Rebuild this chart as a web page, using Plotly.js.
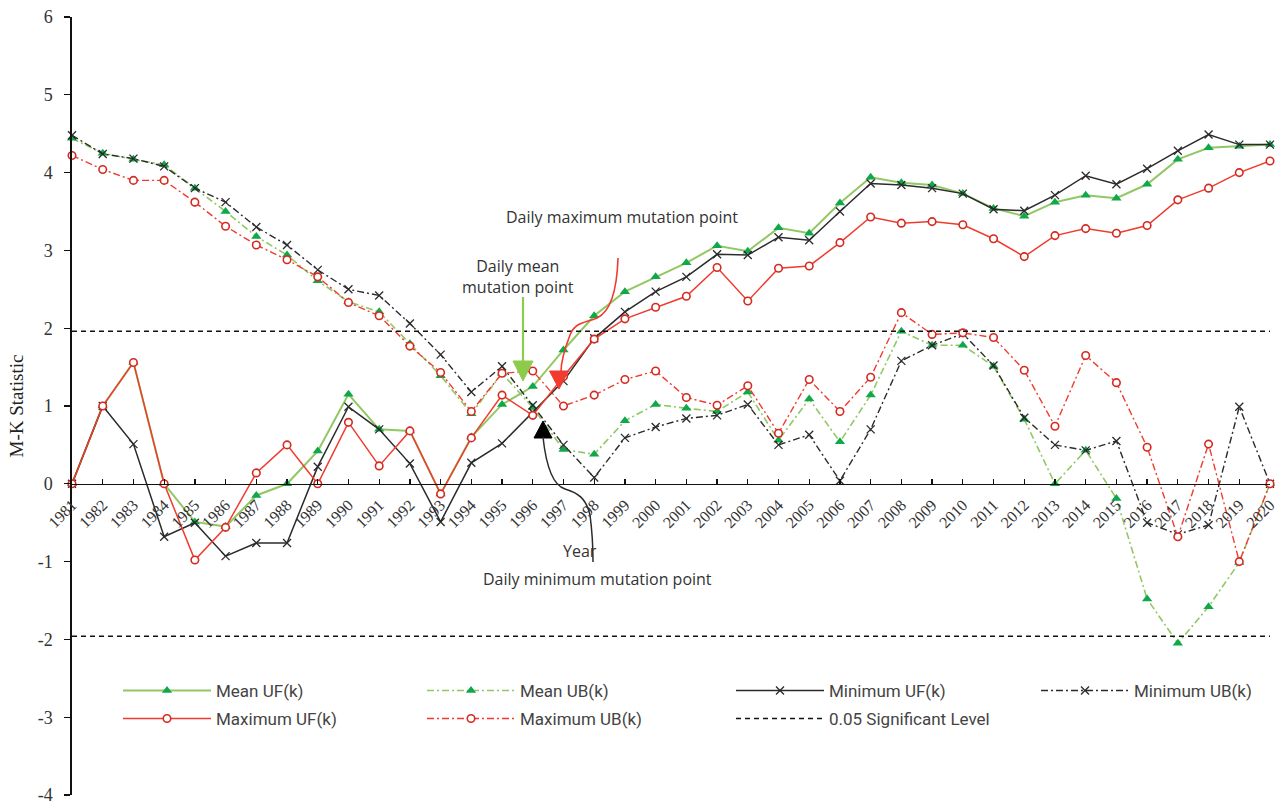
<!DOCTYPE html>
<html>
<head>
<meta charset="utf-8">
<script src="https://cdn.plot.ly/plotly-3.0.1.min.js"></script>
<style>
  html, body { margin: 0; padding: 0; background: #fff; }
  #chart { width: 1280px; height: 807px; }
</style>
</head>
<body>
<div id="chart"></div>
<script>
// Mann-Kendall sequential test statistics, 1981-2020
const years = [1981,1982,1983,1984,1985,1986,1987,1988,1989,1990,
               1991,1992,1993,1994,1995,1996,1997,1998,1999,2000,
               2001,2002,2003,2004,2005,2006,2007,2008,2009,2010,
               2011,2012,2013,2014,2015,2016,2017,2018,2019,2020];

const meanUF = [0,1.00,1.56,0,-0.49,-0.55,-0.15,0,0.42,1.15,
                0.70,0.68,-0.13,0.60,1.02,1.25,1.72,2.16,2.47,2.66,
                2.84,3.06,2.99,3.29,3.22,3.61,3.94,3.87,3.84,3.73,
                3.54,3.44,3.62,3.71,3.67,3.85,4.17,4.32,4.34,4.36];
const meanUB = [4.44,4.25,4.17,4.10,3.80,3.50,3.18,2.94,2.61,2.34,
                2.21,1.80,1.39,0.90,1.42,0.98,0.44,0.38,0.81,1.02,
                0.97,0.93,1.18,0.56,1.09,0.54,1.14,1.96,1.78,1.78,
                1.51,0.83,0,0.43,-0.19,-1.48,-2.05,-1.58,-1.01,0];
const minUF  = [0,1.00,0.51,-0.68,-0.50,-0.93,-0.76,-0.76,0.22,0.99,
                0.70,0.26,-0.49,0.27,0.52,0.92,1.32,1.87,2.21,2.47,
                2.66,2.95,2.94,3.17,3.13,3.50,3.86,3.84,3.80,3.73,
                3.53,3.51,3.71,3.96,3.85,4.05,4.28,4.49,4.36,4.36];
const minUB  = [4.48,4.24,4.18,4.08,3.80,3.62,3.30,3.07,2.75,2.50,
                2.42,2.06,1.66,1.18,1.51,1.01,0.50,0.08,0.59,0.73,
                0.84,0.88,1.02,0.50,0.63,0.04,0.70,1.58,1.78,1.93,
                1.52,0.85,0.50,0.43,0.55,-0.50,-0.65,-0.53,0.99,0];
const maxUF  = [0,1.00,1.56,0,-0.98,-0.56,0.14,0.50,0,0.79,
                0.23,0.68,-0.13,0.59,1.14,0.88,1.38,1.86,2.12,2.27,
                2.41,2.78,2.35,2.77,2.80,3.10,3.43,3.35,3.37,3.33,
                3.15,2.92,3.19,3.28,3.22,3.32,3.65,3.80,4.00,4.15];
const maxUB  = [4.22,4.04,3.90,3.90,3.62,3.31,3.07,2.88,2.66,2.33,
                2.16,1.77,1.43,0.93,1.42,1.45,1.00,1.14,1.34,1.45,
                1.11,1.01,1.26,0.65,1.34,0.93,1.37,2.20,1.92,1.94,
                1.88,1.46,0.74,1.65,1.30,0.47,-0.68,0.51,-1.00,0];

// two-sided 0.05 significance bound
const sigLevel = 1.96;

// y tick labels (plain hyphen for negatives)
const yTickVals = [-4,-3,-2,-1,0,1,2,3,4,5,6];
const yTickText = ['-4','-3','-2','-1','0','1','2','3','4','5','6'];

// plot geometry
const W = 1280, H = 807;
const M = { l: 72, r: 10, t: 17, b: 12, autoexpand: false };
const xRange = [1981, 2020];
const yRange = [-4, 6];
const plotW = W - M.l - M.r, plotH = H - M.t - M.b;
// pixel -> data / paper helpers for the callout graphics and legend boxes
const dx = px => xRange[0] + (px - M.l) * (xRange[1] - xRange[0]) / plotW;
const dy = py => yRange[1] - (py - M.t) * (yRange[1] - yRange[0]) / plotH;
const pxp = px => (px - M.l) / plotW;
const pyp = py => (H - M.b - py) / plotH;

const GREEN_LINE = '#92C863';
const GREEN_MARK = '#10A84A';
const RED = '#F03B2E';
const BLACK = '#2b2b2b';
const DASHDOT = '7px,3px,2px,3px';

const traces = [
  { name: 'Mean UF(k)', legend: 'legend', x: years, y: meanUF, mode: 'lines+markers',
    line: { color: GREEN_LINE, width: 2 },
    marker: { symbol: 'triangle-up', size: 9, color: GREEN_MARK } },
  { name: 'Mean UB(k)', legend: 'legend2', x: years, y: meanUB, mode: 'lines+markers',
    line: { color: GREEN_LINE, width: 1.6, dash: DASHDOT },
    marker: { symbol: 'triangle-up', size: 9, color: GREEN_MARK } },
  { name: 'Minimum UF(k)', legend: 'legend3', x: years, y: minUF, mode: 'lines+markers',
    line: { color: BLACK, width: 1.5 },
    marker: { symbol: 'x-thin', size: 8, line: { color: BLACK, width: 1.3 } } },
  { name: 'Minimum UB(k)', legend: 'legend4', x: years, y: minUB, mode: 'lines+markers',
    line: { color: BLACK, width: 1.4, dash: DASHDOT },
    marker: { symbol: 'x-thin', size: 8, line: { color: BLACK, width: 1.3 } } },
  { name: 'Maximum UF(k)', legend: 'legend5', x: years, y: maxUF, mode: 'lines+markers',
    line: { color: RED, width: 1.5 },
    marker: { symbol: 'circle', size: 7.5, color: '#ffffff', line: { color: '#D42A20', width: 1.6 } } },
  { name: 'Maximum UB(k)', legend: 'legend6', x: years, y: maxUB, mode: 'lines+markers',
    line: { color: RED, width: 1.4, dash: DASHDOT },
    marker: { symbol: 'circle', size: 7.5, color: '#ffffff', line: { color: '#D42A20', width: 1.6 } } },
  { name: '0.05 Significant Level', legend: 'legend7',
    x: [xRange[0], xRange[1], null, xRange[0], xRange[1]],
    y: [sigLevel, sigLevel, null, -sigLevel, -sigLevel], mode: 'lines',
    line: { color: '#111', width: 1.5, dash: '5px,4px' } }
].map(t => Object.assign({ type: 'scatter', cliponaxis: false, hoverinfo: 'x+y+name' }, t));

// callout graphics: pointer triangles and leader curves
function tri(cx, yTop, yBot, half, color, tipDown) {
  const path = tipDown
    ? `M ${dx(cx - half)} ${dy(yTop)} L ${dx(cx + half)} ${dy(yTop)} L ${dx(cx)} ${dy(yBot)} Z`
    : `M ${dx(cx - half)} ${dy(yBot)} L ${dx(cx + half)} ${dy(yBot)} L ${dx(cx)} ${dy(yTop)} Z`;
  return { type: 'path', xref: 'x', yref: 'y', path, fillcolor: color, line: { color, width: 1 }, layer: 'above' };
}
function curve(pts, color, width) {
  // first point is the start, then groups of three for cubic segments (pixels)
  let p = `M ${dx(pts[0][0])} ${dy(pts[0][1])}`;
  for (let i = 1; i + 2 < pts.length; i += 3) {
    const a = pts[i], b = pts[i + 1], c = pts[i + 2];
    p += ` C ${dx(a[0])} ${dy(a[1])}, ${dx(b[0])} ${dy(b[1])}, ${dx(c[0])} ${dy(c[1])}`;
  }
  return { type: 'path', xref: 'x', yref: 'y', path: p, line: { color, width }, layer: 'above' };
}

const shapes = [
  // maximum: curved red leader ending in a down triangle
  curve([[618,258],[617,290],[610,312],[597,318],[585,323],[575,322],[570,335],[565,348],[561,360],[561,372]], RED, 1.6),
  tri(559, 371, 389, 9.5, RED, true),
  // mean: straight green leader ending in a down triangle
  { type: 'line', xref: 'x', yref: 'y', x0: dx(523), y0: dy(297), x1: dx(523), y1: dy(362),
    line: { color: '#8CCB4C', width: 2.2 }, layer: 'above' },
  tri(523, 361, 381, 10, '#8CCB4C', true),
  // minimum: black up triangle with curved leader below
  tri(543, 421, 438, 9, '#000', false),
  curve([[543,437],[546,465],[552,485],[565,489],[578,493],[586,498],[590,515],[592,530],[593,545],[593,562]], BLACK, 1.5)
];

const noteFont = { family: 'Open Sans, DejaVu Sans, sans-serif', size: 16, color: '#333' };
const annotations = [
  { x: dx(622), y: dy(217), text: 'Daily maximum mutation point' },
  { x: dx(518), y: dy(276), text: 'Daily mean<br>mutation point' },
  { x: dx(597), y: dy(579), text: 'Daily minimum mutation point' },
  { x: dx(580), y: dy(551), text: 'Year' }
].map(a => Object.assign({ xref: 'x', yref: 'y', showarrow: false, font: noteFont,
                           xanchor: 'center', yanchor: 'middle' }, a));

const serif = '"Liberation Serif", "Times New Roman", serif';

// one legend box per entry, laid out in a 4-column grid
const legendFont = { family: 'Roboto, "Liberation Sans", sans-serif', size: 17, color: '#444' };
function legendBox(px, py) {
  return { x: pxp(px), y: pyp(py), xanchor: 'left', yanchor: 'middle', orientation: 'v',
           bgcolor: 'rgba(0,0,0,0)', itemwidth: 88, font: legendFont, borderwidth: 0 };
}
const colX = [118, 422, 731, 1036];
const rowY = [691, 719];

const layout = {
  width: W, height: H,
  margin: M,
  paper_bgcolor: '#fff', plot_bgcolor: '#fff',
  showlegend: true,
  xaxis: {
    range: xRange, anchor: 'free', position: (0 - yRange[0]) / (yRange[1] - yRange[0]),
    dtick: 1, tick0: 1981, tickangle: -45,
    ticks: 'inside', ticklen: 5, tickwidth: 1.3, tickcolor: '#111',
    showline: true, linecolor: '#111', linewidth: 1.6,
    showgrid: false, zeroline: false, ticklabelstandoff: 4, ticklabeloverflow: 'allow',
    tickfont: { family: serif, size: 16, color: '#333' }
  },
  yaxis: {
    range: yRange, tickmode: 'array', tickvals: yTickVals, ticktext: yTickText,
    ticks: 'outside', ticklen: 6, tickwidth: 1.3, tickcolor: '#111',
    showline: true, linecolor: '#111', linewidth: 1.6,
    showgrid: false, zeroline: false, ticklabelstandoff: 8, ticklabeloverflow: 'allow',
    tickfont: { family: serif, size: 18, color: '#333' },
    title: { text: 'M-K Statistic', font: { family: serif, size: 19, color: '#222' }, standoff: 9 }
  },
  legend:  legendBox(colX[0], rowY[0]),
  legend2: legendBox(colX[1], rowY[0]),
  legend3: legendBox(colX[2], rowY[0]),
  legend4: legendBox(colX[3], rowY[0]),
  legend5: legendBox(colX[0], rowY[1]),
  legend6: legendBox(colX[1], rowY[1]),
  legend7: legendBox(colX[2], rowY[1]),
  shapes, annotations
};

Plotly.newPlot('chart', traces, layout, { staticPlot: true, displayModeBar: false });
</script>
</body>
</html>
